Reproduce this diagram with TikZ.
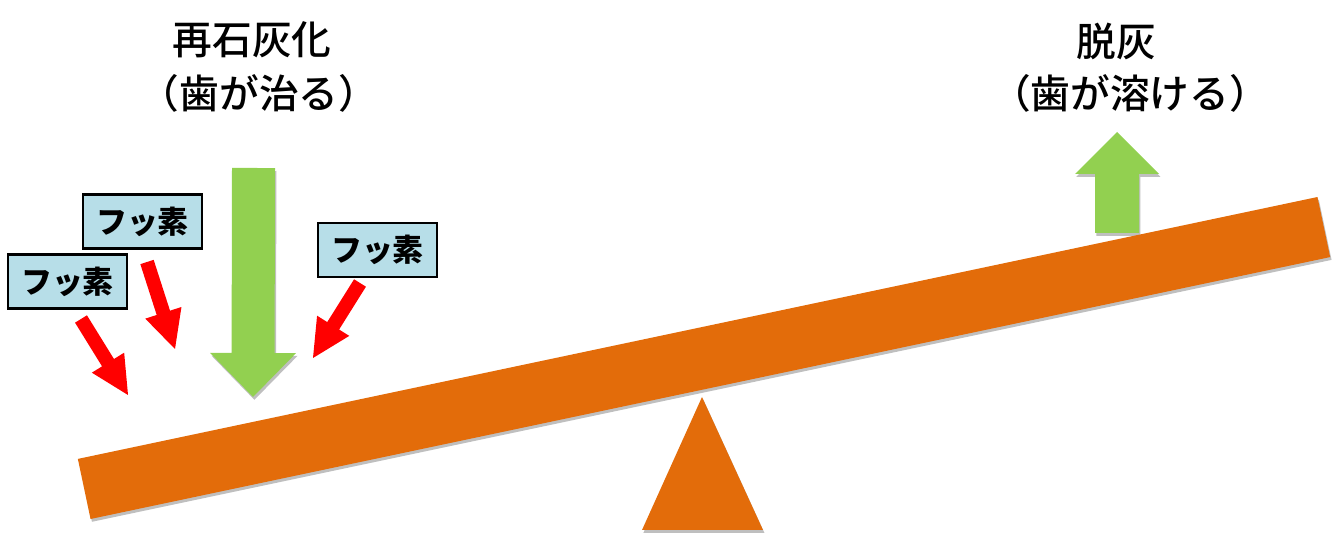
\documentclass[tikz,border=0pt]{standalone}
\usepackage{fontspec}
\newfontfamily\jpfont{Noto Sans CJK JP}
\newfontfamily\jpmedium{Noto Sans CJK JP Medium}
\usepackage{xcolor}
\usetikzlibrary{calc, math, shadows}
\definecolor{plankorange}{RGB}{227,108,10}
\definecolor{arrowgreen}{RGB}{146,208,80}
\definecolor{boxblue}{RGB}{183,222,232}

\tikzset{
  softshadow/.style={drop shadow={shadow xshift=0.4pt, shadow yshift=-0.8pt, opacity=0.25, fill=black}},
  plank/.style={fill=plankorange, softshadow},
  greenarrow/.style={fill=arrowgreen, softshadow},
  redarrow/.style={fill=red},
  title/.style={font=\jpmedium\fontsize{11.3}{13}\selectfont, inner sep=0pt},
  fluorbox/.style={draw=black, line width=0.6pt, fill=boxblue, minimum width=1.19cm, minimum height=0.54cm, inner sep=0pt, font=\jpfont\bfseries\fontsize{8.8}{10}\selectfont},
}

% block arrow: options, tail, tip, half shaft, half head, head length
\newcommand{\blockarrow}[6]{%
  \coordinate (hb) at ($(#3)!#6!(#2)$);
  \fill[#1] ($(#2)!#4!90:(#3)$) -- ($(hb)!#4!90:(#3)$) -- ($(hb)!#5!90:(#3)$) -- (#3)
    -- ($(hb)!#5!-90:(#3)$) -- ($(hb)!#4!-90:(#3)$) -- ($(#2)!#4!-90:(#3)$) -- cycle;
}

\begin{document}
\begin{tikzpicture}
\tikzmath{
\W=13.37;
\H=5.43;
\cx=7.04;
\cy=1.85;
\len=12.67;
\thick=0.614;
}
\useasboundingbox (0,0) rectangle (\W,\H);

% titles
\node[title] (remin) at (2.52,5.03) {再石灰化};
\node[title] (reminsub) at (2.59,4.50) {（歯が治る）};
\node[title] (demin) at (11.16,5.02) {脱灰};
\node[title] (deminsub) at (11.30,4.50) {（歯が溶ける）};

% green arrows
\coordinate (downtail) at (2.535,3.75);
\coordinate (downtip) at (2.53,1.46);
\blockarrow{greenarrow}{downtail}{downtip}{0.215cm}{0.43cm}{0.44cm}
\coordinate (uptail) at (11.17,3.10);
\coordinate (uptip) at (11.17,4.11);
\blockarrow{greenarrow}{uptail}{uptip}{0.22cm}{0.42cm}{0.42cm}

% seesaw
\fill[plank] (7.02,1.46) -- (7.63,0.13) -- (6.42,0.13) -- cycle;
\fill[plank, rotate around={11.93:(\cx,\cy)}] (\cx-\len/2,\cy-\thick/2) rectangle (\cx+\len/2,\cy+\thick/2);

% fluoride
\node[fluorbox] (fluorA) at (0.675,2.615) {フッ素};
\node[fluorbox] (fluorB) at (1.425,3.215) {フッ素};
\node[fluorbox] (fluorC) at (3.775,2.93) {フッ素};

\coordinate (fAtail) at (0.81,2.24);
\coordinate (fAtip) at (1.28,1.48);
\coordinate (fBtail) at (1.47,2.81);
\coordinate (fBtip) at (1.75,1.94);
\coordinate (fCtail) at (3.60,2.60);
\coordinate (fCtip) at (3.13,1.85);
\blockarrow{redarrow}{fAtail}{fAtip}{0.07cm}{0.19cm}{0.38cm}
\blockarrow{redarrow}{fBtail}{fBtip}{0.07cm}{0.19cm}{0.38cm}
\blockarrow{redarrow}{fCtail}{fCtip}{0.07cm}{0.19cm}{0.38cm}
\end{tikzpicture}
\end{document}
